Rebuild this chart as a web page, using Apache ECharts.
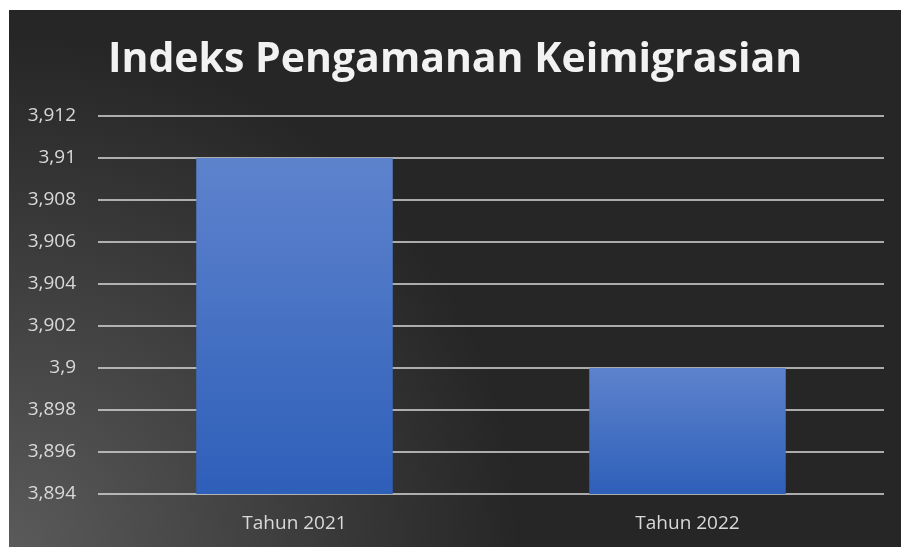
<!DOCTYPE html>
<html>
<head>
<meta charset="utf-8">
<script src="https://cdn.jsdelivr.net/npm/echarts@6/dist/echarts.min.js"></script>
<style>
  html, body { margin: 0; padding: 0; background: #ffffff; }
  #chart { position: absolute; left: 9px; top: 10px; width: 892px; height: 537px; }
</style>
</head>
<body>
<div id="chart"></div>
<script>
// data
const categories = ['Tahun 2021', 'Tahun 2022']
const values = [3.91, 3.9]
const axisMin = 3.894
const axisMax = 3.912
const axisStep = 0.002

const chart = echarts.init(document.getElementById('chart'))

chart.setOption({
  animation: false,
  backgroundColor: {
    type: 'radial',
    x: 0, y: 1, r: 0.95,
    colorStops: [
      { offset: 0, color: '#5a5a5a' },
      { offset: 1, color: '#262626' }
    ]
  },
  title: {
    text: 'Indeks Pengamanan Keimigrasian',
    left: 'center',
    top: 25,
    textStyle: {
      color: '#f2f2f2',
      fontFamily: 'Open Sans',
      fontWeight: 'bold',
      fontSize: 41
    }
  },
  grid: {
    left: 89,
    right: 17,
    top: 106,
    bottom: 53
  },
  xAxis: {
    type: 'category',
    data: categories,
    axisLine: { show: false },
    axisTick: { show: false },
    axisLabel: {
      color: '#d9d9d9',
      fontFamily: 'Open Sans',
      fontSize: 19,
      margin: 20
    }
  },
  yAxis: {
    type: 'value',
    min: axisMin,
    max: axisMax,
    interval: axisStep,
    axisLine: { show: false },
    axisTick: { show: false },
    axisLabel: {
      color: '#d9d9d9',
      fontFamily: 'Open Sans',
      fontSize: 19,
      margin: 22,
      formatter: (v) => String(Math.round(v * 1000) / 1000).replace('.', ',')
    },
    splitLine: {
      lineStyle: { color: '#d9d9d9', width: 1.5 }
    }
  },
  series: [{
    type: 'bar',
    data: values,
    barWidth: '50%',
    itemStyle: {
      color: new echarts.graphic.LinearGradient(0, 0, 0, 1, [
        { offset: 0, color: '#5e83cd' },
        { offset: 1, color: '#2e5fb9' }
      ])
    }
  }]
})
</script>
</body>
</html>
